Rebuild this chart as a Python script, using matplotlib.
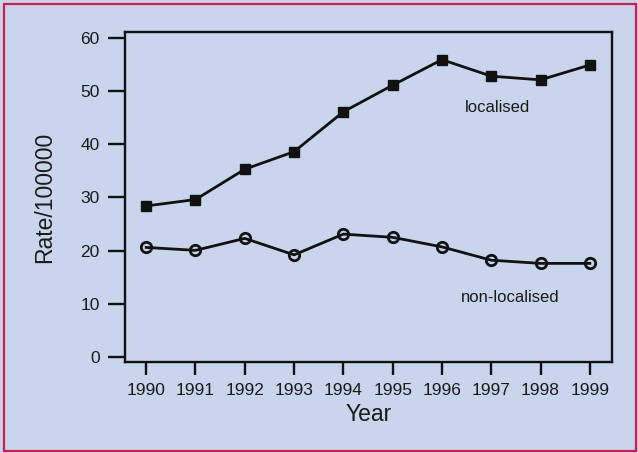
import matplotlib
matplotlib.use("Agg")
import matplotlib.pyplot as plt
from matplotlib.patches import Rectangle

years = [1990, 1991, 1992, 1993, 1994, 1995, 1996, 1997, 1998, 1999]
localised = [28.4, 29.6, 35.3, 38.6, 46.1, 51.1, 55.9, 52.8, 52.1, 54.9]
nonLocalised = [20.6, 20.05, 22.3, 19.2, 23.1, 22.5, 20.7, 18.2, 17.6, 17.6]
yTicks = [0, 10, 20, 30, 40, 50, 60]

bg = '#c9d5ed'
ink = '#111111'

plt.rcParams['font.family'] = ['Liberation Sans', 'DejaVu Sans']

W, H = 638, 453
fig = plt.figure(figsize=(W / 100, H / 100), dpi=100)
fig.patch.set_facecolor(bg)

# axes box in pixel terms
left, right, top, bottom = 125, 612, 32, 362
ax = fig.add_axes([left / W, (H - bottom) / H, (right - left) / W, (bottom - top) / H])
ax.set_facecolor(bg)

ax.plot(years, localised, color=ink, lw=2, marker='s', ms=7.5, mfc=ink, mec=ink)
ax.plot(years, nonLocalised, color=ink, lw=2, marker='o', ms=7.5, mfc='none', mec=ink, mew=2)

ax.text(1997.12, 46.9, 'localised', fontsize=12, ha='center', va='center', color='#1a1a1a')
ax.text(1997.38, 11.1, 'non-localised', fontsize=12, ha='center', va='center', color='#1a1a1a')

ax.set_xlim(1989.57, 1999.45)
ax.set_ylim(-0.94, 61.1)
ax.set_xticks(years)
ax.set_yticks(yTicks)

for s in ax.spines.values():
    s.set_linewidth(1.7)
    s.set_color(ink)

ax.tick_params(axis='x', direction='out', length=9.4, width=1.7, pad=6, labelsize=12.5, colors=ink)
ax.tick_params(axis='y', direction='out', length=12.2, width=1.7, pad=6, labelsize=12.5, colors=ink)
for lab in ax.get_xticklabels() + ax.get_yticklabels():
    lab.set_color('#1a1a1a')

ax.set_xlabel('Year', fontsize=16.5, color='#1a1a1a', labelpad=3)
fig.text(45 / W, 1 - 197 / H, 'Rate/100000', fontsize=16.5, rotation=90,
         ha='center', va='center', color='#1a1a1a')

# red frame round the figure
fig.patches.append(Rectangle((4 / W, 2 / H), (W - 6) / W, (H - 6) / H, transform=fig.transFigure,
                             fill=False, edgecolor='#cc2050', linewidth=1.6))

fig.savefig('out.png', dpi=100, facecolor=bg)
